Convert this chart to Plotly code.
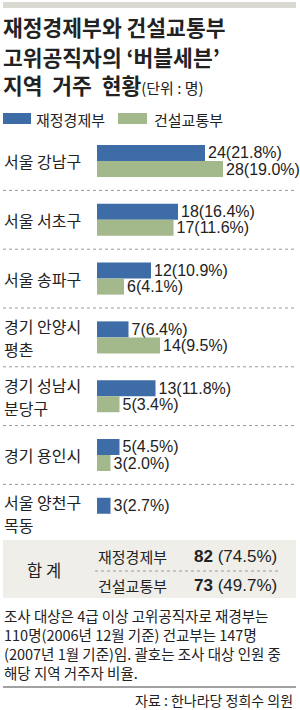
import plotly.graph_objects as go

# ---- data ----
categories = ["서울 강남구", "서울 서초구", "서울 송파구", "경기 안양시<br>평촌",
              "경기 성남시<br>분당구", "경기 용인시", "서울 양천구<br>목동"]
series_names = ["재정경제부", "건설교통부"]
mofe_counts = [24, 18, 12, 7, 13, 5, 3]
mofe_pct = [21.8, 16.4, 10.9, 6.4, 11.8, 4.5, 2.7]
moct_counts = [28, 17, 6, 14, 5, 3, None]
moct_pct = [19.0, 11.6, 4.1, 9.5, 3.4, 2.0, None]
total_counts = [82, 73]
total_pct = [74.5, 49.7]
footnote_lines = [
    "조사 대상은 4급 이상 고위공직자로 재경부는",
    "110명(2006년 12월 기준) 건교부는 147명",
    "(2007년 1월 기준)임. 괄호는 조사 대상 인원 중",
    "해당 지역 거주자 비율.",
]

W, H = 300, 710
BLUE = "#3d6ca6"
GREEN = "#a3b98b"
TXT = "#222222"
KFONT = "Noto Sans CJK KR"
NFONT = "Liberation Sans Narrow, Liberation Sans, Noto Sans CJK KR"


def px(x):
    return x / W


def py(y):
    return 1 - y / H


def lab(c, p):
    return "" if c is None else f"{c}({p}%)"


fig = go.Figure()
fig.add_trace(go.Bar(
    y=categories, x=mofe_counts, orientation="h", name=series_names[0],
    marker=dict(color=BLUE, line=dict(width=0)),
    text=[lab(c, p) for c, p in zip(mofe_counts, mofe_pct)],
    textposition="outside", cliponaxis=False, constraintext="none",
    textfont=dict(family=NFONT, size=16, color=TXT), showlegend=False,
))
fig.add_trace(go.Bar(
    y=categories, x=moct_counts, orientation="h", name=series_names[1],
    marker=dict(color=GREEN, line=dict(width=0)),
    text=[lab(c, p) for c, p in zip(moct_counts, moct_pct)],
    textposition="outside", cliponaxis=False, constraintext="none",
    textfont=dict(family=NFONT, size=16, color=TXT), showlegend=False,
))

top, band = 131.6, 58.8
bottom = top + band * len(categories)

fig.update_layout(
    width=W, height=H, margin=dict(l=0, r=0, t=0, b=0),
    paper_bgcolor="white", plot_bgcolor="white",
    barmode="group", bargap=0.455, bargroupgap=0,
    font=dict(family=KFONT, color=TXT),
    xaxis=dict(domain=[px(97), 1], range=[0, 203 / 4.5], visible=False, fixedrange=True),
    yaxis=dict(domain=[py(bottom), py(top)], autorange="reversed", visible=False,
               type="category", fixedrange=True),
)

shapes = []
# top grey strip
shapes.append(dict(type="rect", xref="paper", yref="paper", x0=px(3), x1=px(296),
                   y0=py(8), y1=py(2), fillcolor="#d9d9d1", line=dict(width=0)))
# legend swatches
shapes.append(dict(type="rect", xref="paper", yref="paper", x0=px(3), x1=px(31),
                   y0=py(124), y1=py(113), fillcolor=BLUE, line=dict(width=0)))
shapes.append(dict(type="rect", xref="paper", yref="paper", x0=px(118), x1=px(147),
                   y0=py(124), y1=py(113), fillcolor=GREEN, line=dict(width=0)))
# dotted separators between categories
for i in range(len(categories) - 1):
    shapes.append(dict(type="line", xref="paper", yref="y", x0=px(3), x1=px(296),
                       y0=i + 0.5, y1=i + 0.5, line=dict(color="#999999", width=1, dash="dot")))
# total box
shapes.append(dict(type="rect", xref="paper", yref="paper", x0=px(3), x1=px(296),
                   y0=py(598), y1=py(540), fillcolor="#efeee9", line=dict(width=0), layer="below"))
shapes.append(dict(type="line", xref="paper", yref="paper", x0=px(95), x1=px(280),
                   y0=py(571), y1=py(571), line=dict(color="#9a9a9a", width=1, dash="dot")))
# bottom rule
shapes.append(dict(type="line", xref="paper", yref="paper", x0=px(3), x1=px(296),
                   y0=py(687), y1=py(687), line=dict(color="#444444", width=1)))

ann = []


def note(x, y, text, size, xanchor="left", bold=False, family=KFONT, align="left", color=TXT):
    ann.append(dict(xref="paper", yref="paper", x=px(x), y=py(y), text=text,
                    showarrow=False, xanchor=xanchor, yanchor="middle", align=align,
                    font=dict(family=family, size=size, color=color,
                              weight="bold" if bold else "normal")))


# title
note(1, 27, "재정경제부와 건설교통부", 21.5, bold=True)
note(1, 56, "고위공직자의 ‘버블세븐’", 21.5, bold=True)
ann.append(dict(xref="paper", yref="paper", x=px(1), y=py(85),
                text="<b>지역&nbsp; 거주&nbsp; 현황</b><span style='font-size:15px'>(단위 : 명)</span>",
                showarrow=False, xanchor="left", yanchor="middle",
                font=dict(family=KFONT, size=21.5, color=TXT)))
# legend labels
note(34, 119, series_names[0], 15)
note(152, 119, series_names[1], 15)

# category labels (left aligned, one annotation per line)
LINE_GAP = 23
for c in categories:
    lines = c.split("<br>")
    n = len(lines)
    for k, line in enumerate(lines):
        ann.append(dict(xref="paper", yref="y", x=px(2), y=c, text=line, showarrow=False,
                        xanchor="left", yanchor="middle", align="left",
                        yshift=((n - 1) / 2 - k) * LINE_GAP,
                        font=dict(family=KFONT, size=16, color=TXT)))

# total box
note(44, 570, "합 계", 16.5, xanchor="center")
note(96, 556, series_names[0], 15)
note(96, 585, series_names[1], 15)
for yv, c, p in [(556, total_counts[0], total_pct[0]), (585, total_counts[1], total_pct[1])]:
    note(192, yv, f"<b>{c}</b> ({p}%)", 17, family=NFONT)

# footnote (one annotation per line)
for k, line in enumerate(footnote_lines):
    note(2, 615 + 19 * k, line, 14.5)
note(295, 700, "자료 : 한나라당 정희수 의원", 14, xanchor="right")

fig.update_layout(shapes=shapes, annotations=ann)
fig.write_html("out.html")
